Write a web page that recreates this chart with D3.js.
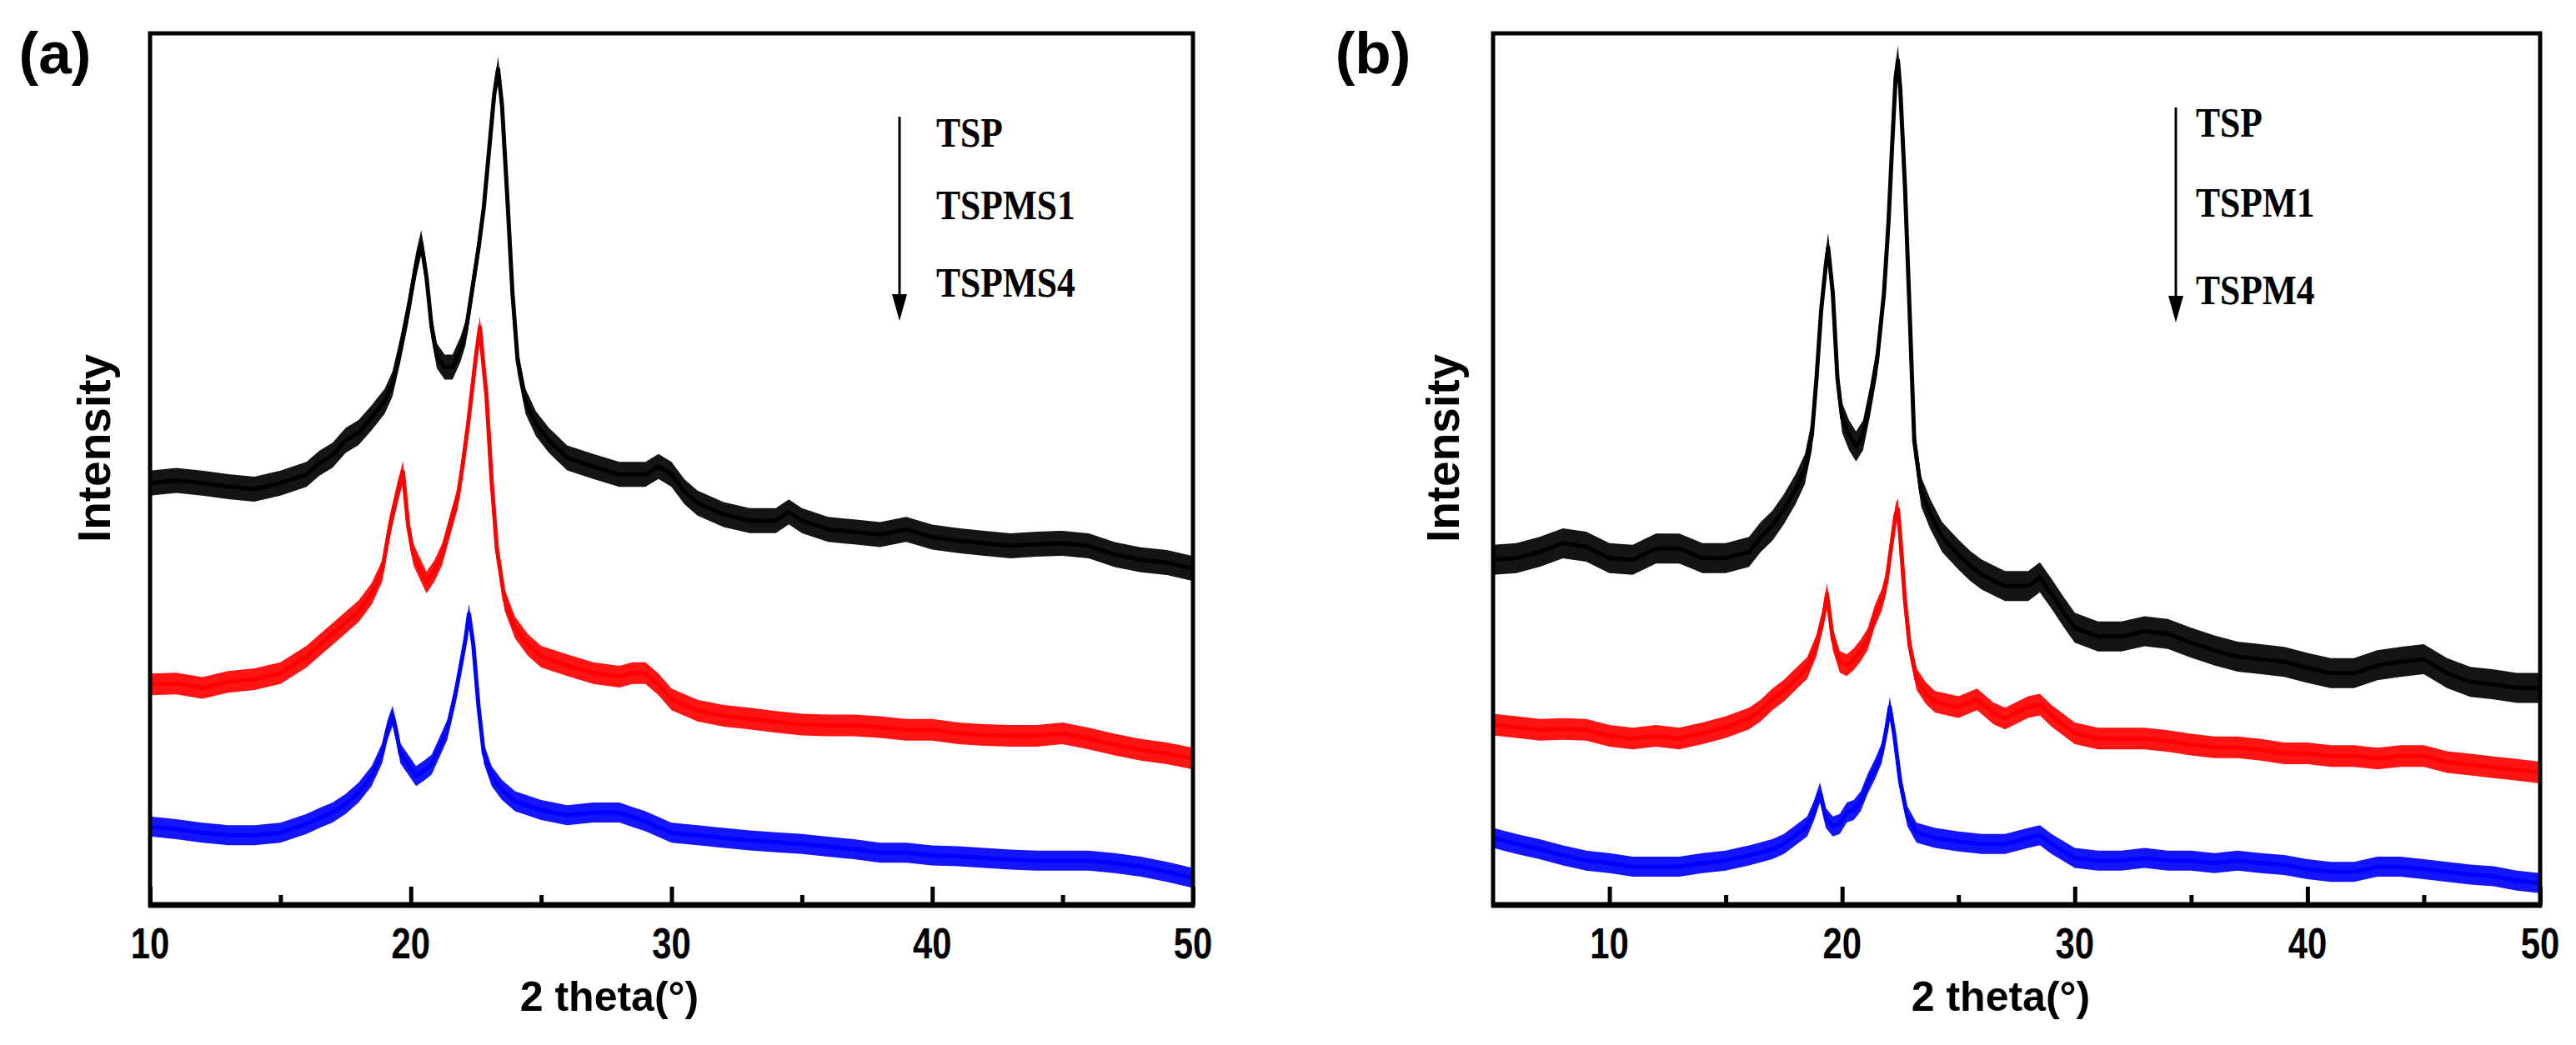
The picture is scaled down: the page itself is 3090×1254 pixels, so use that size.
<!DOCTYPE html>
<html>
<head>
<meta charset="utf-8">
<script src="https://cdn.jsdelivr.net/npm/d3@7"></script>
<style>
  body { margin: 0; background: #fff; }
  svg { display: block; }
</style>
</head>
<body>
<div id="chart"></div>
<script>
// values: [2 theta, relative intensity 0-100 of the plot height]
var tspA = [[10,48.4],[11,48.7],[12,48.4],[13,48.0],[14,47.7],[15,48.4],[16,49.4],[16.5,50.7],[17,51.6],[17.5,53.3],[18,54.2],[18.5,55.9],[19,57.8],[19.3,59.8],[19.6,63.7],[19.9,68.2],[20.2,73.4],[20.4,76.0],[20.6,72.1],[20.8,66.3],[21.0,63.0],[21.3,61.7],[21.6,61.7],[21.9,63.7],[22.1,65.6],[22.3,69.5],[22.6,75.4],[22.8,80.0],[23.0,86.5],[23.2,93.0],[23.35,95.9],[23.5,91.7],[23.7,81.3],[23.9,70.2],[24.1,62.4],[24.4,57.8],[24.8,55.2],[25.3,53.3],[26,51.3],[27,50.3],[28,49.4],[29,49.4],[29.5,50.3],[30,49.4],[30.5,47.4],[31,46.1],[32,44.8],[33,44.1],[34,44.1],[34.5,45.1],[35,44.1],[36,43.1],[37,42.8],[38,42.5],[39,43.1],[40,42.2],[41,41.8],[42,41.5],[43,41.2],[44,41.4],[45,41.5],[46,41.2],[47,40.2],[48,39.6],[49,39.3],[50,38.6]];
var tspms1A = [[10,25.3],[11,25.4],[12,24.9],[13,25.6],[14,25.9],[15,26.6],[16,28.5],[16.5,29.8],[17,31.1],[17.5,32.4],[18,33.7],[18.5,35.7],[18.9,38.3],[19.2,43.5],[19.5,47.4],[19.7,49.7],[19.9,43.5],[20.1,40.2],[20.4,38.3],[20.6,37.0],[20.9,38.3],[21.2,40.2],[21.5,43.5],[21.8,46.7],[22.0,50.7],[22.2,55.2],[22.4,60.4],[22.5,63.0],[22.65,66.3],[22.8,61.5],[22.9,58.5],[23.1,48.7],[23.3,40.9],[23.6,35.0],[24,31.8],[24.5,29.8],[25,28.5],[26,27.5],[27,26.6],[28,26.2],[28.5,26.6],[29,26.6],[29.5,25.3],[30,23.6],[31,22.3],[32,21.7],[33,21.4],[34,21.0],[35,20.7],[36,20.6],[37,20.6],[38,20.4],[39,20.1],[40,20.1],[41,19.7],[42,19.5],[43,19.4],[44,19.4],[45,19.7],[46,19.1],[47,18.4],[48,17.8],[49,17.4],[50,16.8]];
var tspms4A = [[10,9.0],[11,8.7],[12,8.3],[13,8.0],[14,8.0],[15,8.3],[16,9.3],[16.5,10.0],[17,10.6],[17.5,11.6],[18,12.9],[18.5,14.8],[18.9,17.4],[19.1,20.0],[19.3,21.7],[19.45,19.8],[19.6,17.4],[19.9,16.1],[20.2,14.8],[20.5,15.4],[20.8,16.1],[21.1,18.1],[21.4,20.1],[21.7,24.0],[21.9,27.2],[22.1,30.5],[22.23,33.4],[22.4,29.8],[22.6,22.7],[22.8,17.4],[23.1,14.8],[23.5,13.2],[24,11.9],[25,10.9],[26,10.3],[27,10.6],[28,10.6],[29,9.6],[30,8.3],[31,8.0],[32,7.7],[33,7.4],[34,7.2],[35,7.0],[36,6.7],[37,6.4],[38,6.0],[39,6.0],[40,5.7],[41,5.6],[42,5.4],[43,5.2],[44,5.1],[45,5.1],[46,5.1],[47,4.8],[48,4.4],[49,3.8],[50,3.1]];

var tspB = [[5,39.6],[6,39.8],[7,40.5],[8,41.5],[9,41.1],[10,39.8],[11,39.6],[12,40.9],[13,40.9],[14,39.8],[15,39.8],[16,40.5],[16.5,42.2],[17,43.5],[17.5,45.4],[18,47.7],[18.4,50.0],[18.7,53.9],[18.9,60.4],[19.1,68.2],[19.3,73.4],[19.4,75.4],[19.6,70.2],[19.8,60.4],[20.0,55.9],[20.3,53.9],[20.6,52.6],[20.9,53.9],[21.2,57.8],[21.5,62.4],[21.8,70.2],[22.0,78.6],[22.15,87.1],[22.3,94.9],[22.4,96.9],[22.5,93.6],[22.7,82.6],[22.9,68.2],[23.1,53.3],[23.4,47.4],[23.8,44.8],[24.3,42.2],[25,40.2],[25.5,38.9],[26,37.9],[27,36.6],[28,36.6],[28.5,37.6],[29,35.7],[29.5,33.7],[30,31.8],[31,30.8],[32,30.8],[33,31.4],[34,31.1],[35,30.1],[36,29.2],[37,28.5],[38,28.2],[39,27.9],[40,27.2],[41,26.6],[42,26.6],[43,27.5],[44,27.9],[45,28.2],[46,26.6],[47,25.6],[48,25.3],[49,24.9],[50,24.9]];
var tspm1B = [[5,20.7],[6,20.4],[7,20.1],[8,20.2],[9,20.1],[10,19.4],[11,19.1],[12,19.4],[13,19.1],[14,19.7],[15,20.4],[16,21.4],[16.5,22.3],[17,23.6],[17.5,24.6],[18,25.9],[18.5,27.2],[18.9,29.8],[19.2,33.1],[19.35,35.7],[19.6,30.5],[19.9,27.9],[20.2,27.5],[20.5,28.2],[20.8,29.2],[21.1,30.5],[21.4,33.1],[21.7,35.0],[21.9,37.0],[22.1,40.9],[22.3,44.8],[22.4,45.4],[22.5,42.2],[22.7,35.0],[22.9,29.8],[23.2,25.9],[23.6,24.3],[24,23.3],[25,22.7],[25.8,23.6],[26.5,22.0],[27,21.4],[28,22.7],[28.5,23.0],[29,21.7],[30,19.7],[31,19.1],[32,19.1],[33,19.1],[34,18.8],[35,18.4],[36,18.1],[37,18.1],[38,17.8],[39,17.4],[40,17.4],[41,17.1],[42,17.1],[43,16.8],[44,17.1],[45,17.1],[46,16.4],[47,16.1],[48,15.8],[49,15.5],[50,15.2]];
var tspm4B = [[5,7.7],[6,7.0],[7,6.4],[8,5.7],[9,5.1],[10,4.8],[11,4.4],[12,4.4],[13,4.4],[14,4.8],[15,5.1],[16,5.7],[17,6.4],[17.5,7.0],[18,8.0],[18.5,9.0],[18.8,10.9],[19.05,12.9],[19.3,10.0],[19.6,9.0],[19.9,9.3],[20.2,10.6],[20.5,10.9],[20.8,11.9],[21.1,13.9],[21.4,15.5],[21.7,17.4],[21.9,20.1],[22.05,22.7],[22.25,19.4],[22.5,14.1],[22.8,10.2],[23.2,8.3],[24,7.7],[25,7.3],[26,7.0],[27,7.0],[28,7.7],[28.5,8.0],[29,7.0],[30,5.4],[31,5.1],[32,5.1],[33,5.4],[34,5.1],[35,5.1],[36,4.8],[37,5.1],[38,4.8],[39,4.6],[40,4.1],[41,3.8],[42,3.8],[43,4.4],[44,4.4],[45,4.1],[46,3.8],[47,3.5],[48,3.3],[49,2.8],[50,2.5]];

var legendA = ['TSP', 'TSPMS1', 'TSPMS4'];
var legendB = ['TSP', 'TSPM1', 'TSPM4'];
var domainA = [10, 50];
var domainB = [5, 50];
var majorTicks = [10, 20, 30, 40, 50];
var minorTicks = [15, 25, 35, 45];
var colors = ['#000000', '#ff0000', '#0000ff'];

var W = 3090, H = 1254;

var svg = d3.select('#chart').append('svg')
    .attr('width', W)
    .attr('height', H);

svg.append('rect').attr('width', W).attr('height', H).attr('fill', '#fff');

var sansFont = '"Liberation Sans", Arial, sans-serif';
var serifFont = '"Liberation Serif", "Times New Roman", serif';

function drawPanel(p) {
    var x = d3.scaleLinear().domain(p.domain).range([p.left, p.right]);
    var y = d3.scaleLinear().domain([0, 100]).range([p.bottom, p.top]);

    var g = svg.append('g');

    var line = d3.line()
        .x(function(d) { return x(d[0]); })
        .y(function(d) { return y(d[1]); });

    //the scans are noisy: a vertical band around the trace (thin where the trace is steep)
    p.series.forEach(function(s, i) {
        var half = p.noise[i];
        var band = d3.area()
            .x(function(d) { return x(d[0]); })
            .y0(function(d) { return y(d[1]) + half; })
            .y1(function(d) { return y(d[1]) - half; });
        g.append('path')
            .datum(s)
            .attr('d', band)
            .attr('fill', colors[i])
            .attr('fill-opacity', 0.92);
        g.append('path')
            .datum(s)
            .attr('d', line)
            .attr('fill', 'none')
            .attr('stroke', colors[i])
            .attr('stroke-width', 5)
            .attr('stroke-linejoin', 'round');
    });

    // ticks point inward, no labels from the axis itself
    g.append('g')
        .attr('transform', 'translate(0,' + p.bottom + ')')
        .call(d3.axisBottom(x).tickValues(majorTicks).tickSize(-22).tickFormat(''))
        .call(function(a) {
            a.select('.domain').remove();
            a.selectAll('line').attr('stroke', '#000').attr('stroke-width', 5);
        });
    g.append('g')
        .attr('transform', 'translate(0,' + p.bottom + ')')
        .call(d3.axisBottom(x).tickValues(minorTicks).tickSize(-12).tickFormat(''))
        .call(function(a) {
            a.select('.domain').remove();
            a.selectAll('line').attr('stroke', '#000').attr('stroke-width', 5);
        });

    // frame
    g.append('rect')
        .attr('x', p.left).attr('y', p.top)
        .attr('width', p.right - p.left).attr('height', p.bottom - p.top)
        .attr('fill', 'none')
        .attr('stroke', '#000')
        .attr('stroke-width', 5);
    g.append('line')
        .attr('x1', p.left - 2).attr('x2', p.right + 2)
        .attr('y1', p.bottom).attr('y2', p.bottom)
        .attr('stroke', '#000').attr('stroke-width', 7);

    // tick labels, narrow bold
    g.selectAll('text.tick')
        .data(majorTicks)
        .enter().append('text')
        .attr('class', 'tick')
        .attr('transform', function(d) { return 'translate(' + x(d) + ',1150) scale(0.82,1)'; })
        .attr('text-anchor', 'middle')
        .style('font-family', sansFont)
        .style('font-weight', 'bold')
        .style('font-size', '51px')
        .text(function(d) { return d; });

    g.append('text')
        .attr('x', p.titleX)
        .attr('y', 1213)
        .attr('text-anchor', 'middle')
        .style('font-family', sansFont)
        .style('font-weight', 'bold')
        .style('font-size', '50px')
        .text('2 theta(°)');

    g.append('text')
        .attr('transform', 'translate(' + p.yLabelX + ',538) rotate(-90)')
        .attr('text-anchor', 'middle')
        .style('font-family', sansFont)
        .style('font-weight', 'bold')
        .style('font-size', '55px')
        .text('Intensity');

    g.append('text')
        .attr('x', p.tagX)
        .attr('y', 88)
        .attr('text-anchor', 'middle')
        .style('font-family', sansFont)
        .style('font-weight', 'bold')
        .style('font-size', '71px')
        .text(p.tag);

    // legend: arrow down plus names
    g.append('line')
        .attr('x1', p.arrowX).attr('x2', p.arrowX)
        .attr('y1', p.arrowTop).attr('y2', p.arrowBottom - 28)
        .attr('stroke', '#000').attr('stroke-width', 3);
    g.append('path')
        .attr('d', 'M' + (p.arrowX - 9) + ',' + (p.arrowBottom - 32) + 'L' + (p.arrowX + 9) + ',' + (p.arrowBottom - 32) + 'L' + p.arrowX + ',' + p.arrowBottom + 'Z')
        .attr('fill', '#000');

    g.selectAll('text.legend')
        .data(p.legend)
        .enter().append('text')
        .attr('class', 'legend')
        .attr('transform', function(d, i) { return 'translate(' + p.legendX + ',' + p.legendY[i] + ') scale(0.87,1)'; })
        .style('font-family', serifFont)
        .style('font-weight', 'bold')
        .style('font-size', '50px')
        .text(function(d) { return d; });
}

drawPanel({
    domain: domainA, left: 180, right: 1431, top: 40, bottom: 1086,
    series: [tspA, tspms1A, tspms4A], noise: [15, 13, 12], legend: legendA,
    titleX: 731, yLabelX: 132, tagX: 66, tag: '(a)',
    arrowX: 1079, arrowTop: 140, arrowBottom: 385,
    legendX: 1123, legendY: [176, 263, 356]
});

drawPanel({
    domain: domainB, left: 1791, right: 3047, top: 40, bottom: 1086,
    series: [tspB, tspm1B, tspm4B], noise: [18, 13, 12], legend: legendB,
    titleX: 2400, yLabelX: 1750, tagX: 1647, tag: '(b)',
    arrowX: 2610, arrowTop: 129, arrowBottom: 387,
    legendX: 2634, legendY: [164, 260, 365]
});
</script>
</body>
</html>
